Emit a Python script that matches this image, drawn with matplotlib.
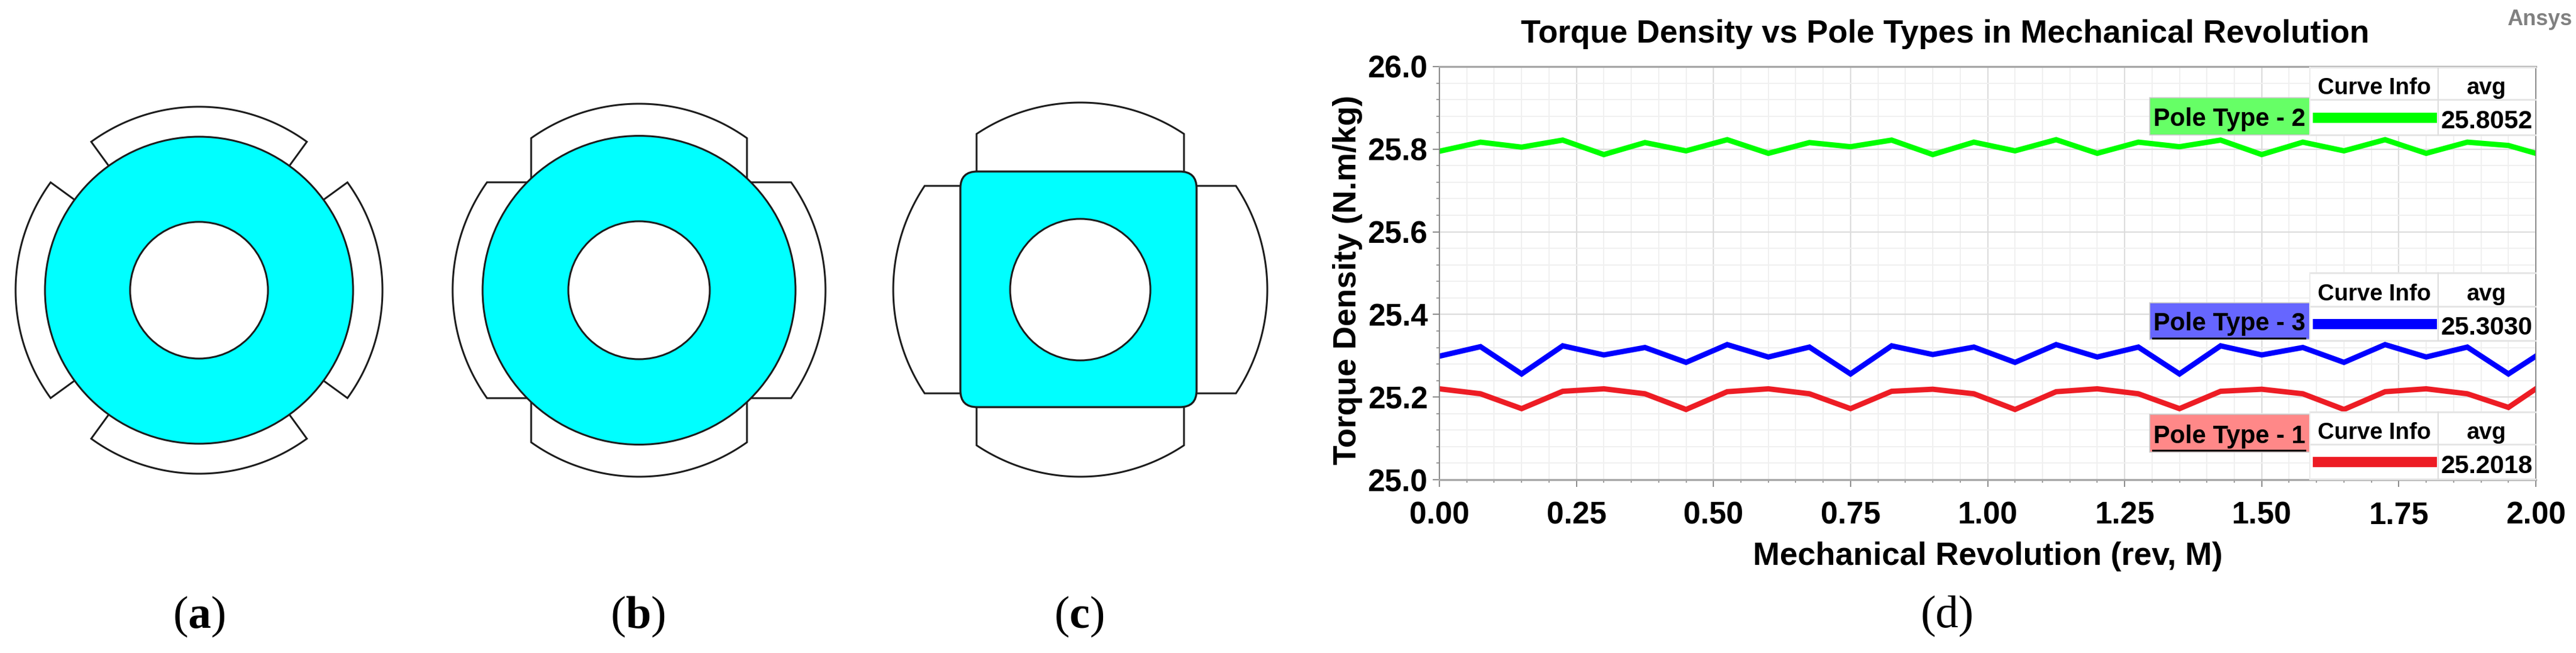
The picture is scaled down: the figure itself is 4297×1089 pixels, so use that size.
"""Pole type sketches (a-c) and torque density comparison (d)."""

import matplotlib

matplotlib.use("Agg")

import matplotlib.pyplot as plt
import numpy as np
from matplotlib.patches import Ellipse, FancyBboxPatch, Rectangle
from matplotlib.ticker import FixedLocator, FormatStrFormatter, MultipleLocator

WIDTH_PX = 4297
HEIGHT_PX = 1089
DPI = 100

plt.rcParams["font.family"] = ["Liberation Sans", "DejaVu Sans"]
plt.rcParams["mathtext.fontset"] = "custom"
plt.rcParams["mathtext.rm"] = "Liberation Serif"
plt.rcParams["mathtext.bf"] = "Liberation Serif:bold"

revolution = [
    0.0, 0.075, 0.15, 0.225, 0.3, 0.375, 0.45, 0.525, 0.6, 0.675, 0.75, 0.825, 0.9, 0.975,
    1.05, 1.125, 1.2, 1.275, 1.35, 1.425, 1.5, 1.575, 1.65, 1.725, 1.8, 1.875, 1.95, 2.0,
]
pole_type_2 = [
    25.795, 25.817, 25.805, 25.822, 25.787, 25.816, 25.796, 25.823, 25.790, 25.816,
    25.806, 25.822, 25.787, 25.817, 25.796, 25.823, 25.790, 25.817, 25.806, 25.822,
    25.787, 25.817, 25.796, 25.823, 25.790, 25.817, 25.809, 25.790,
]
pole_type_3 = [
    25.299, 25.322, 25.256, 25.324, 25.302, 25.320, 25.284, 25.327, 25.297, 25.321,
    25.256, 25.324, 25.303, 25.321, 25.284, 25.327, 25.297, 25.321, 25.256, 25.324,
    25.302, 25.320, 25.284, 25.327, 25.297, 25.321, 25.256, 25.299,
]
pole_type_1 = [
    25.220, 25.208, 25.172, 25.214, 25.220, 25.208, 25.170, 25.213, 25.220, 25.208,
    25.172, 25.214, 25.219, 25.208, 25.170, 25.213, 25.220, 25.208, 25.172, 25.214,
    25.219, 25.208, 25.170, 25.213, 25.220, 25.208, 25.175, 25.220,
]

x_ticks = [0.0, 0.25, 0.5, 0.75, 1.0, 1.25, 1.5, 1.75, 2.0]
y_ticks = [25.0, 25.2, 25.4, 25.6, 25.8, 26.0]

curve_names = ["Pole Type - 2", "Pole Type - 3", "Pole Type - 1"]
curve_avgs = ["25.8052", "25.3030", "25.2018"]
curve_colors = ["#00ff00", "#0000ff", "#ed1c24"]
box_colors = ["#66ff66", "#6666ff", "#ff8888"]
panel_labels = [r"($\mathbf{a}$)", r"($\mathbf{b}$)", r"($\mathbf{c}$)"]

ROTOR_CYAN = "#00ffff"
OUTLINE = "#1c1c1c"
SKETCH_LW = 2.2


def draw_outline(canvas, cx, cy, xs, ys):
    """Draw one magnet outline in all four orientations around a rotor centre."""
    for angle in np.deg2rad([0, 90, 180, 270]):
        rot_x = xs * np.cos(angle) - ys * np.sin(angle)
        rot_y = xs * np.sin(angle) + ys * np.cos(angle)
        canvas.plot(cx + rot_x, cy + rot_y, color=OUTLINE, lw=SKETCH_LW, solid_joinstyle="miter")


def radial_magnet(outer, inner, half_angle):
    """Arc shoe with radial sides, pointing up."""
    theta = np.deg2rad(np.linspace(-half_angle, half_angle, 60))
    edge = np.deg2rad(half_angle)
    xs = np.r_[inner * np.sin(-edge), outer * np.sin(theta), inner * np.sin(edge)]
    ys = np.r_[-inner * np.cos(edge), -outer * np.cos(theta), -inner * np.cos(edge)]
    return xs, ys


def parallel_magnet(outer, inner_y, half_width):
    """Arc shoe with parallel sides, pointing up."""
    limit = np.arcsin(half_width / outer)
    theta = np.linspace(-limit, limit, 60)
    xs = np.r_[-half_width, outer * np.sin(theta), half_width]
    ys = np.r_[-inner_y, -outer * np.cos(theta), -inner_y]
    return xs, ys


def draw_hole(canvas, cx, cy, rx, ry):
    canvas.add_patch(Ellipse((cx, cy), 2 * rx, 2 * ry, fc="white", ec=OUTLINE, lw=SKETCH_LW, zorder=4))


def draw_sketches(canvas):
    """Draw the three rotor sketches on the pixel canvas."""
    # (a) round rotor, radial shoes
    draw_outline(canvas, 332, 484, *radial_magnet(306, 250, 36))
    canvas.add_patch(Ellipse((332, 484), 514, 512, fc=ROTOR_CYAN, ec=OUTLINE, lw=SKETCH_LW, zorder=3))
    draw_hole(canvas, 332, 484, 115, 114)

    # (b) round rotor, parallel sided shoes
    draw_outline(canvas, 1066, 484, *parallel_magnet(311, 175, 180))
    canvas.add_patch(Ellipse((1066, 484), 522, 515, fc=ROTOR_CYAN, ec=OUTLINE, lw=SKETCH_LW, zorder=3))
    draw_hole(canvas, 1066, 484, 118, 115)

    # (c) square rotor with rounded corners
    draw_outline(canvas, 1802, 483, *parallel_magnet(312, 190, 173))
    canvas.add_patch(
        FancyBboxPatch(
            (1602, 286), 394, 393,
            boxstyle="round,pad=0,rounding_size=28",
            fc=ROTOR_CYAN, ec=OUTLINE, lw=2.4, zorder=3,
        )
    )
    draw_hole(canvas, 1802, 483, 117, 118)

    for label, x in zip(panel_labels, [332, 1064, 1800]):
        canvas.text(x, 1028, label, family="Liberation Serif", fontsize=55, ha="center", va="center")
    canvas.text(3248, 1027, "(d)", family="Liberation Serif", fontsize=55, ha="center", va="center")


def draw_curve_info(canvas, top, sep, bottom, box_top, box_bottom, index):
    """Draw one Ansys style curve info table with its coloured name box."""
    left, mid, right = 3853, 4067, 4229
    canvas.add_patch(Rectangle((left, top), right - left, bottom - top, fc="white", ec="none"))
    for y in (top, sep, bottom):
        canvas.plot([left, right], [y, y], color="#e4e4e4", lw=2)
    canvas.plot([left, left], [top, bottom], color="#ececec", lw=1.5)
    canvas.plot([mid, mid], [top, bottom], color="#dddddd", lw=1.5)

    canvas.add_patch(
        Rectangle((3586, box_top), left - 3586, box_bottom - box_top, fc=box_colors[index], ec="#c8c8c8", lw=1.2)
    )
    canvas.text(3719, (box_top + box_bottom) / 2 + 5, curve_names[index], fontsize=30, fontweight="bold",
                ha="center", va="center")

    header_y = (top + sep) / 2 + 8
    canvas.text((left + mid) / 2, header_y, "Curve Info", fontsize=27.5, fontweight="bold", ha="center", va="center")
    canvas.text((mid + right) / 2, header_y, "avg", fontsize=27.5, fontweight="bold", ha="center", va="center")

    row_y = (sep + bottom) / 2
    canvas.add_patch(Rectangle((3858, row_y - 8), 207, 17, fc=curve_colors[index], ec="none"))
    canvas.text((mid + right) / 2, row_y + 8, curve_avgs[index], fontsize=30.5, fontweight="bold",
                ha="center", va="center")


def main() -> None:
    fig = plt.figure(figsize=(WIDTH_PX / DPI, HEIGHT_PX / DPI), dpi=DPI, facecolor="white")

    ax = fig.add_axes([2401 / WIDTH_PX, 1 - 800 / HEIGHT_PX, 1829 / WIDTH_PX, 689 / HEIGHT_PX])
    ax.plot(revolution, pole_type_2, color=curve_colors[0], lw=6.4, solid_joinstyle="miter")
    ax.plot(revolution, pole_type_3, color=curve_colors[1], lw=6.4, solid_joinstyle="miter")
    ax.plot(revolution, pole_type_1, color=curve_colors[2], lw=6.4, solid_joinstyle="miter")

    ax.set_xlim(0.0, 2.0)
    ax.set_ylim(25.0, 26.0)
    ax.xaxis.set_major_locator(FixedLocator(x_ticks))
    ax.xaxis.set_minor_locator(MultipleLocator(0.05))
    ax.yaxis.set_major_locator(FixedLocator(y_ticks))
    ax.yaxis.set_minor_locator(MultipleLocator(0.04))
    ax.xaxis.set_major_formatter(FormatStrFormatter("%.2f"))
    ax.yaxis.set_major_formatter(FormatStrFormatter("%.1f"))
    ax.grid(True, which="major", color="#dcdcdc", lw=1.6)
    ax.grid(True, which="minor", color="#f0f0f0", lw=1.4)
    ax.set_axisbelow(True)
    ax.tick_params(axis="x", which="major", length=8.3, width=1.3, color="#808080", pad=17.5, labelsize=37)
    ax.tick_params(axis="x", which="minor", length=3.6, width=1.1, color="#808080")
    ax.tick_params(axis="y", which="major", length=8, width=1.3, color="#808080", pad=6, labelsize=37)
    ax.tick_params(axis="y", which="minor", length=3.6, width=1.1, color="#808080")
    for tick in ax.get_xticklabels() + ax.get_yticklabels():
        tick.set_fontweight("bold")

    for side in ("top", "bottom"):
        ax.spines[side].set_color("#a6a6a6")
        ax.spines[side].set_linewidth(2.4)
    for side in ("left", "right"):
        ax.spines[side].set_color("#808080")
        ax.spines[side].set_linewidth(1.3)

    # overlay in image pixels for the sketches and the curve info tables
    canvas = fig.add_axes([0, 0, 1, 1], facecolor="none")
    canvas.set_xlim(0, WIDTH_PX)
    canvas.set_ylim(HEIGHT_PX, 0)
    canvas.axis("off")

    draw_sketches(canvas)
    draw_curve_info(canvas, 112, 166, 225, 163, 225, 0)
    draw_curve_info(canvas, 455, 511, 568, 505, 566, 1)
    draw_curve_info(canvas, 687, 741, 799, 691, 754, 2)
    for y in (564, 751):
        canvas.plot([3591, 3845], [y, y], color="black", lw=2.2)

    canvas.text(3245, 57, "Torque Density vs Pole Types in Mechanical Revolution", fontsize=38.6,
                fontweight="bold", ha="center", va="center")
    canvas.text(3316, 928, "Mechanical Revolution (rev, M)", fontsize=38.6, fontweight="bold",
                ha="center", va="center")
    canvas.text(2248, 467, "Torque Density (N.m/kg)", fontsize=38.6, fontweight="bold", rotation=90,
                ha="center", va="center")
    canvas.text(4236, 32, "Ansys", fontsize=26, fontweight="bold", color="#808080", ha="center", va="center")

    fig.savefig("out.png", dpi=DPI)


if __name__ == "__main__":
    main()
